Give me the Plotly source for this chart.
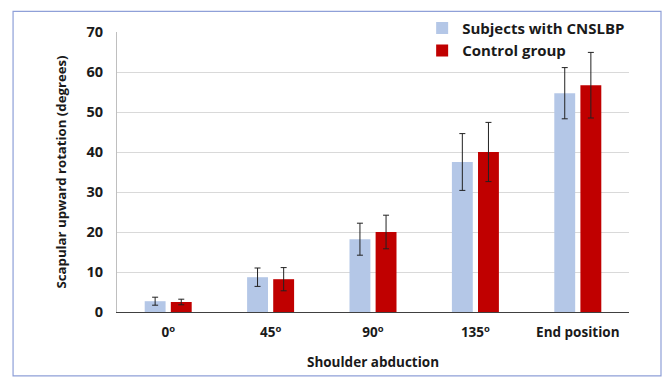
import plotly.graph_objects as go

categories = ["0<sup>o</sup>", "45<sup>o</sup>", "90<sup>o</sup>", "135<sup>o</sup>", "End position"]
cnslbp_mean = [2.7, 8.7, 18.2, 37.5, 54.7]
cnslbp_sd = [1.0, 2.3, 4.0, 7.1, 6.4]
control_mean = [2.5, 8.2, 20.0, 40.0, 56.7]
control_sd = [0.7, 2.9, 4.2, 7.4, 8.2]

FONT = "Open Sans"
err_style = dict(type="data", thickness=1, width=3, color="#222222")

fig = go.Figure()
fig.add_trace(go.Bar(
    name="Subjects with CNSLBP", x=categories, y=cnslbp_mean,
    error_y=dict(array=cnslbp_sd, **err_style),
    marker=dict(color="#B4C7E7", line=dict(width=0)),
))
fig.add_trace(go.Bar(
    name="Control group", x=categories, y=control_mean,
    error_y=dict(array=control_sd, **err_style),
    marker=dict(color="#C00000", line=dict(width=0)),
))

fig.update_layout(
    width=666, height=381,
    margin=dict(l=117, r=37, t=27, b=69),
    paper_bgcolor="white", plot_bgcolor="white",
    barmode="group", bargap=0.49, bargroupgap=0.2,
    font=dict(family=FONT, color="#1a1a1a"),
    showlegend=True,
    legend=dict(
        x=0.596, y=1.072, xanchor="left", yanchor="top",
        bgcolor="rgba(0,0,0,0)", font=dict(size=15, family=FONT, color="#1a1a1a", weight="bold"),
        tracegroupgap=0, itemwidth=30,
    ),
    xaxis=dict(
        showline=True, linecolor="#404040", linewidth=1,
        ticks="", tickfont=dict(size=13.5, weight="bold"), ticklabelstandoff=8,
        title=dict(text="Shoulder abduction", font=dict(size=13.5, weight="bold"), standoff=17),
    ),
    yaxis=dict(
        range=[0, 70], dtick=10, showgrid=True, gridcolor="#D9D9D9", gridwidth=1,
        showline=True, linecolor="#BFBFBF", linewidth=1, zeroline=False,
        ticks="", tickfont=dict(size=14.5, weight="bold"), ticklabelstandoff=10,
        title=dict(text="Scapular upward rotation (degrees)", font=dict(size=13.2, weight="bold"), standoff=16),
    ),
    shapes=[dict(
        type="rect", xref="paper", yref="paper",
        x0=-0.203, x1=1.0625, y0=-0.228, y1=1.0737,
        line=dict(color="#8FA0D8", width=1.2), fillcolor="rgba(0,0,0,0)", layer="below",
    )],
)

fig.write_html("out.html", config={"displayModeBar": False},
               post_script="document.body.style.margin='0';")
